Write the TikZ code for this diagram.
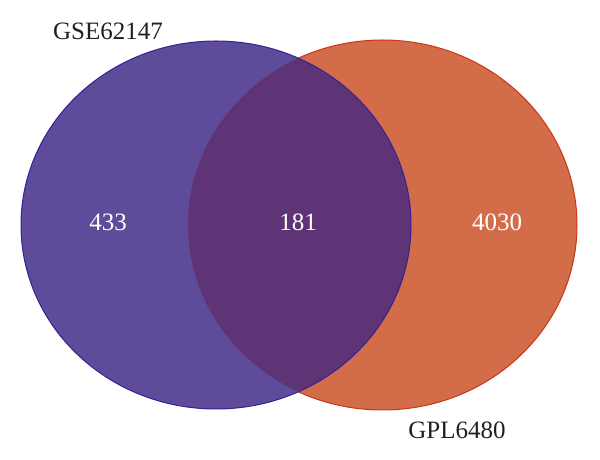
\documentclass[tikz,border=0pt]{standalone}
\usepackage{fontspec}
\setmainfont{Liberation Serif}
\definecolor{setA}{RGB}{94,76,154}
\definecolor{setB}{RGB}{211,108,72}
\definecolor{setAB}{RGB}{94,52,118}
\definecolor{lineA}{RGB}{52,34,150}
\definecolor{lineB}{RGB}{204,54,22}
\definecolor{ink}{RGB}{35,31,32}
\begin{document}
\begin{tikzpicture}[x=1pt, y=1pt, line width=1pt,
    every node/.style={font=\fontsize{25}{30}\selectfont, inner sep=0pt},
    count/.style={text=white},
    setname/.style={text=ink}]
  \useasboundingbox (0,0) rectangle (600,460);
  % Right set (GPL6480), drawn first
  \draw[lineB, fill=setB] (382.5,235) ellipse [x radius=194.5, y radius=185];
  % Left set (GSE62147) on top
  \fill[setA] (216,235) ellipse [x radius=195, y radius=184];
  % Intersection
  \begin{scope}
    \clip (382.5,235) ellipse [x radius=194.5, y radius=185];
    \fill[setAB] (216,235) ellipse [x radius=195, y radius=184];
  \end{scope}
  \draw[lineA] (216,235) ellipse [x radius=195, y radius=184];
  % Set names
  \node[setname] (nameA) at (108,429) {GSE62147};
  \node[setname] (nameB) at (457,30) {GPL6480};
  % Counts
  \node[count] (onlyA) at (108,238) {433};
  \node[count] (both) at (298,238) {181};
  \node[count] (onlyB) at (497,238) {4030};
\end{tikzpicture}
\end{document}
